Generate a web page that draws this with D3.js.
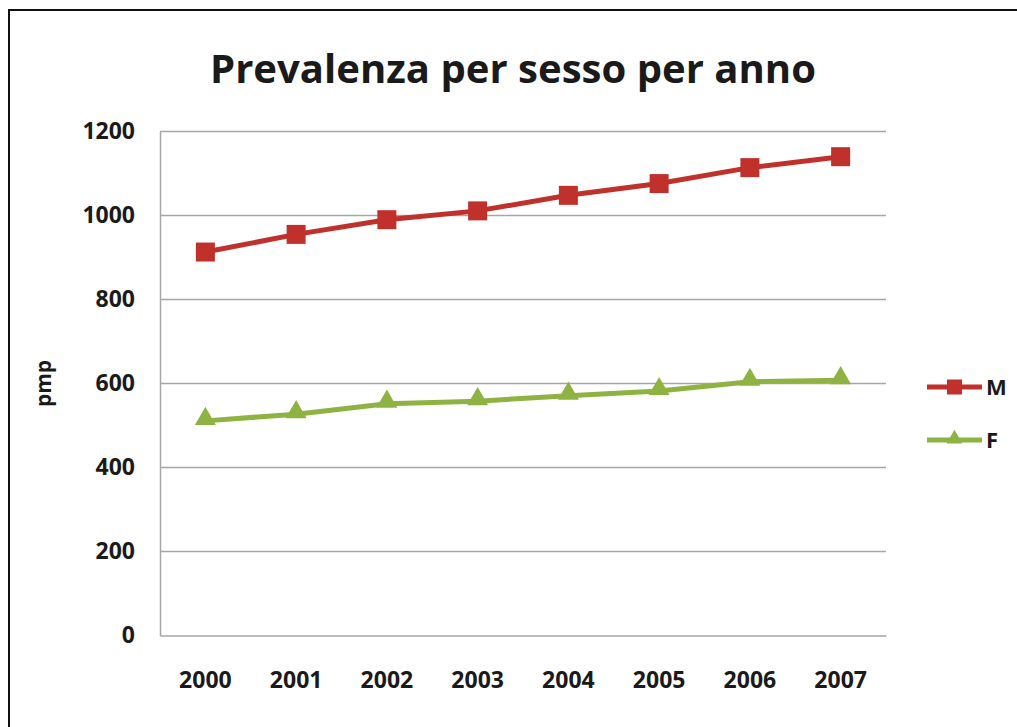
<!DOCTYPE html>
<html>
<head>
<meta charset="utf-8">
<script src="https://cdn.jsdelivr.net/npm/d3@7"></script>
<style>
  body { margin: 0; background: #fff; }
  text { font-family: "Open Sans", sans-serif; font-weight: bold; fill: #1a1a1a; }
</style>
</head>
<body>
<svg width="1017" height="727"></svg>
<script>
const years = ["2000", "2001", "2002", "2003", "2004", "2005", "2006", "2007"];
const maleValues = [913, 955, 990, 1011, 1048, 1076, 1114, 1140];   // M
const femaleValues = [511, 527, 552, 558, 571, 582, 604, 608];      // F
const yTicks = [0, 200, 400, 600, 800, 1000, 1200];

const svg = d3.select("svg"),
  width = +svg.attr("width"),
  height = +svg.attr("height");

const margin = {top: 131.5, right: 131, bottom: 91.5, left: 160};

// frame round the picture (cut off at right and bottom)
svg.append("rect")
  .attr("x", 9).attr("y", 10)
  .attr("width", 1030).attr("height", 740)
  .attr("fill", "none").attr("stroke", "#111").attr("stroke-width", 2);

svg.append("text")
  .attr("x", 513).attr("y", 83)
  .attr("text-anchor", "middle")
  .attr("font-size", 39)
  .attr("textLength", 606)
  .attr("lengthAdjust", "spacingAndGlyphs")
  .text("Prevalenza per sesso per anno");

const x = d3.scaleBand()
  .domain(years)
  .range([margin.left, width - margin.right]);

const y = d3.scaleLinear()
  .domain([0, 1200])
  .range([height - margin.bottom, margin.top]);

const xc = d => x(d) + x.bandwidth() / 2;

// gridlines
svg.append("g")
  .selectAll("line")
  .data(yTicks.filter(d => d > 0))
  .join("line")
  .attr("x1", margin.left).attr("x2", width - margin.right)
  .attr("y1", d => y(d)).attr("y2", d => y(d))
  .attr("stroke", "#a6a6a6").attr("stroke-width", 1.5);

function yAxis(g) {
  g.attr("transform", `translate(${margin.left},0)`)
    .call(d3.axisLeft(y).tickValues(yTicks).tickFormat(d3.format("d")).tickSize(0).tickPadding(25))
    .call(g => g.select(".domain").attr("stroke", "#a6a6a6").attr("stroke-width", 1.5))
    .selectAll("text").attr("font-size", 23).attr("font-family", null).attr("fill", "#1a1a1a");
}

function xAxis(g) {
  g.attr("transform", `translate(0,${height - margin.bottom})`)
    .call(d3.axisBottom(x).tickSize(0).tickPadding(36))
    .call(g => g.select(".domain").attr("stroke", "#a6a6a6").attr("stroke-width", 1.5))
    .selectAll("text").attr("font-size", 23).attr("font-family", null).attr("fill", "#1a1a1a");
}

svg.append("g").call(yAxis);
svg.append("g").call(xAxis);

svg.append("text")
  .attr("transform", `translate(51,${y(600)}) rotate(-90)`)
  .attr("text-anchor", "middle")
  .attr("font-size", 21)
  .text("pmp");

const line = d3.line()
  .x((d, i) => xc(years[i]))
  .y(d => y(d));

const red = "#c0312c", green = "#8fb342";

svg.append("path")
  .datum(maleValues)
  .attr("d", line)
  .attr("fill", "none").attr("stroke", red).attr("stroke-width", 5);

svg.append("path")
  .datum(femaleValues)
  .attr("d", line)
  .attr("fill", "none").attr("stroke", green).attr("stroke-width", 5);

const square = d3.symbol().type(d3.symbolSquare).size(19 * 19);
const triangle = d3.symbol().type(d3.symbolTriangle).size(190);

svg.append("g")
  .selectAll("path")
  .data(maleValues)
  .join("path")
  .attr("transform", (d, i) => `translate(${xc(years[i])},${y(d)})`)
  .attr("d", square)
  .attr("fill", red);

svg.append("g")
  .selectAll("path")
  .data(femaleValues)
  .join("path")
  .attr("transform", (d, i) => `translate(${xc(years[i])},${y(d) - 2})`)
  .attr("d", triangle)
  .attr("fill", green);

// legend
const legend = [
  {name: "M", color: red, sym: d3.symbol().type(d3.symbolSquare).size(15 * 15), yy: 387},
  {name: "F", color: green, sym: d3.symbol().type(d3.symbolTriangle).size(110), yy: 440}
];

const lg = svg.append("g")
  .selectAll("g")
  .data(legend)
  .join("g")
  .attr("transform", d => `translate(927,${d.yy})`);

lg.append("line")
  .attr("x1", 0).attr("x2", 55)
  .attr("stroke", d => d.color).attr("stroke-width", 5);

lg.append("path")
  .attr("transform", (d, i) => `translate(27.5,${i ? -1 : 0})`)
  .attr("d", d => d.sym())
  .attr("fill", d => d.color);

lg.append("text")
  .attr("x", 59).attr("dy", "0.35em")
  .attr("font-size", 22)
  .text(d => d.name);
</script>
</body>
</html>
